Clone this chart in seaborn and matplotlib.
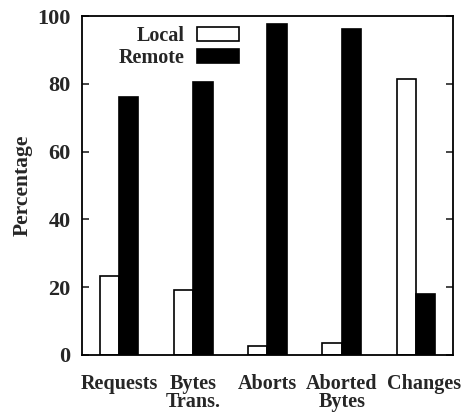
import matplotlib
matplotlib.use("Agg")
import matplotlib.pyplot as plt
import matplotlib.transforms as mtransforms
import pandas as pd
import seaborn as sns

# values
categories = ["Requests", "Bytes\nTrans.", "Aborts", "Aborted\nBytes", "Changes"]
local_pct = [23.4, 19.0, 2.5, 3.6, 81.4]
remote_pct = [76.2, 80.6, 97.6, 96.1, 17.9]
y_ticks = [0, 20, 40, 60, 80, 100]

df = pd.DataFrame({
    "category": categories * 2,
    "location": ["Local"] * len(categories) + ["Remote"] * len(categories),
    "pct": local_pct + remote_pct,
})

sns.set_style("ticks")
plt.rcParams["font.family"] = ["Liberation Serif", "DejaVu Serif"]
plt.rcParams["font.weight"] = "bold"

fig = plt.figure(figsize=(4.73, 4.15), dpi=100)
ax = fig.add_axes([0.173, 0.145, 0.785, 0.816])

sns.barplot(
    data=df,
    x="category",
    y="pct",
    hue="location",
    palette={"Local": "white", "Remote": "black"},
    edgecolor="black",
    linewidth=1.2,
    width=0.52,
    ax=ax,
)

ax.set_xlim(-0.5, 4.5)
ax.set_ylim(0, 100)
ax.set_yticks(y_ticks)
ax.set_xlabel("")
ax.set_ylabel("Percentage", fontsize=15.5, fontweight="bold", labelpad=3)

for side in ["top", "right", "left", "bottom"]:
    ax.spines[side].set_visible(True)
    ax.spines[side].set_linewidth(1.3)
    ax.spines[side].set_color("black")

ax.tick_params(axis="y", direction="in", left=True, right=True, length=5,
               width=1.2, labelsize=16, pad=8)
ax.tick_params(axis="x", bottom=False, labelsize=14.5, pad=10)
for lab in ax.get_xticklabels():
    lab.set_linespacing(0.9)
# nudge the last label right like the original
last = ax.get_xticklabels()[-1]
last.set_transform(last.get_transform() + mtransforms.ScaledTranslation(0.08, 0, fig.dpi_scale_trans))

ax.legend(
    loc="upper right",
    bbox_to_anchor=(0.45, 1.0),
    markerfirst=False,
    frameon=False,
    fontsize=14.5,
    handlelength=2.1,
    handleheight=0.65,
    handletextpad=0.6,
    labelspacing=0.1,
    borderaxespad=0.1,
)

fig.savefig("out.png", dpi=100)
